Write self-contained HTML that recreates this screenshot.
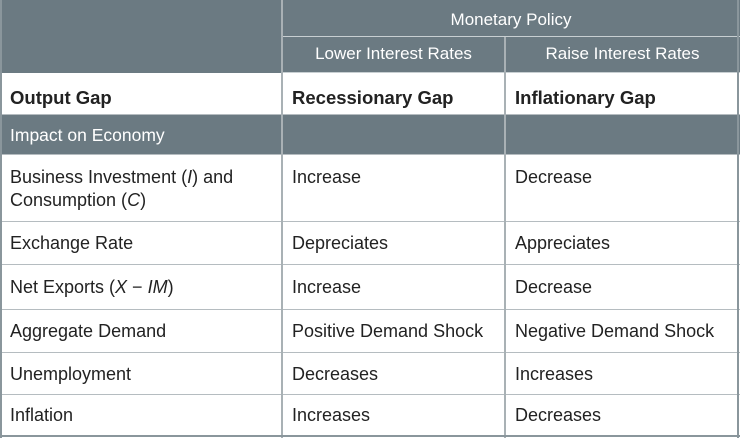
<!DOCTYPE html>
<html><head><meta charset="utf-8"><style>
body{margin:0;width:740px;height:438px;background:#fff;font-family:"Liberation Sans",Arial,sans-serif;position:relative;overflow:hidden}
.c{position:absolute;box-sizing:border-box;font-size:18px;color:#222;padding-left:10px;line-height:23px;white-space:nowrap}
.g{background:#6b7a82;color:#fff}
.h{position:absolute;background:#b5bcc0}
.b{font-weight:bold;font-size:18.5px}
</style></head><body>
<div>
<div class="c g" style="left:0;top:0;width:282px;height:73px"></div>
<div class="c g" style="left:282px;top:0;width:458px;height:37px;text-align:center;padding:8px 0 0 0;font-size:17px">Monetary Policy</div>
<div class="c g" style="left:282px;top:37px;width:223px;height:36px;text-align:center;padding:5px 0 0 0;font-size:17px">Lower Interest Rates</div>
<div class="c g" style="left:505px;top:37px;width:235px;height:36px;text-align:center;padding:5px 0 0 0;font-size:17px">Raise Interest Rates</div>
<div class="c g" style="left:0;top:115px;width:740px;height:40px;padding-top:9px;font-size:17.5px">Impact on Economy</div>
<div class="c b" style="left:0;top:73px;width:282px;height:42px;padding-top:13px;background:#fff">Output Gap</div>
<div class="c b" style="left:282px;top:73px;width:223px;height:42px;padding-top:13px">Recessionary Gap</div>
<div class="c b" style="left:505px;top:73px;width:235px;height:42px;padding-top:13px">Inflationary Gap</div>
<div class="c" style="left:0;top:155px;width:282px;padding-top:11px">Business Investment (<i>I</i>) and<br>Consumption (<i>C</i>)</div>
<div class="c" style="left:282px;top:155px;padding-top:11px">Increase</div>
<div class="c" style="left:505px;top:155px;padding-top:11px">Decrease</div>
<div class="c" style="left:0;top:222px;padding-top:10px">Exchange Rate</div>
<div class="c" style="left:282px;top:222px;padding-top:10px">Depreciates</div>
<div class="c" style="left:505px;top:222px;padding-top:10px">Appreciates</div>
<div class="c" style="left:0;top:265px;padding-top:11px">Net Exports (<i>X</i> − <i>IM</i>)</div>
<div class="c" style="left:282px;top:265px;padding-top:11px">Increase</div>
<div class="c" style="left:505px;top:265px;padding-top:11px">Decrease</div>
<div class="c" style="left:0;top:310px;padding-top:10px">Aggregate Demand</div>
<div class="c" style="left:282px;top:310px;padding-top:10px">Positive Demand Shock</div>
<div class="c" style="left:505px;top:310px;padding-top:10px">Negative Demand Shock</div>
<div class="c" style="left:0;top:353px;padding-top:10px">Unemployment</div>
<div class="c" style="left:282px;top:353px;padding-top:10px">Decreases</div>
<div class="c" style="left:505px;top:353px;padding-top:10px">Increases</div>
<div class="c" style="left:0;top:395px;padding-top:9px">Inflation</div>
<div class="c" style="left:282px;top:395px;padding-top:9px">Increases</div>
<div class="c" style="left:505px;top:395px;padding-top:9px">Decreases</div>
<div class="h" style="left:282px;top:36px;width:458px;height:1px;background:#c8cfd2"></div>
<div class="h" style="left:282px;top:72px;width:458px;height:1px;background:#c8cfd2"></div>
<div class="h" style="left:0;top:114px;width:740px;height:1px"></div>
<div class="h" style="left:0;top:154px;width:740px;height:1px"></div>
<div class="h" style="left:0;top:221px;width:740px;height:1px"></div>
<div class="h" style="left:0;top:264px;width:740px;height:1px"></div>
<div class="h" style="left:0;top:309px;width:740px;height:1px"></div>
<div class="h" style="left:0;top:352px;width:740px;height:1px"></div>
<div class="h" style="left:0;top:394px;width:740px;height:1px"></div>
<div class="h" style="left:281px;top:0;width:2px;height:438px;background:#a9b1b5"></div>
<div class="h" style="left:504px;top:37px;width:2px;height:401px;background:#a9b1b5"></div>
<div class="h" style="left:0;top:0;width:2px;height:438px;background:#8a969c"></div>
<div class="h" style="left:737px;top:0;width:2px;height:438px;background:#8a969c"></div>
<div class="h" style="left:0;top:435px;width:740px;height:2px;background:#8a969c"></div>
</div>
</body></html>
